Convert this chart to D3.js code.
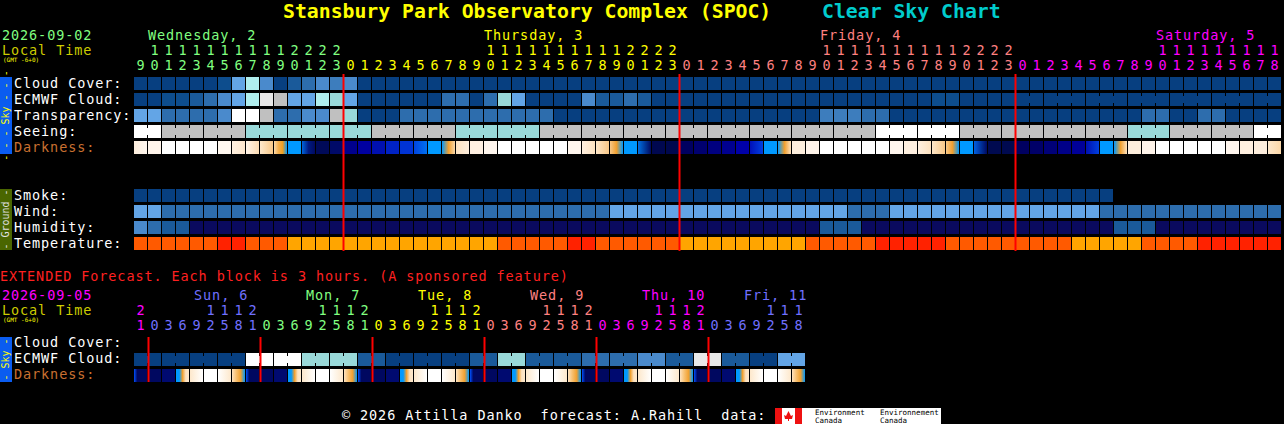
<!DOCTYPE html>
<html>
<head>
<meta charset="utf-8">
<script src="https://cdn.jsdelivr.net/npm/d3@7"></script>
<style>
  body { margin: 0; background: #000; }
  svg { display: block; }
  text { font-family: "DejaVu Sans Mono", monospace; white-space: pre; }
</style>
</head>
<body>
<svg id="chart" width="1284" height="424"></svg>
<script>
// ---- data ----
var mainDayNames = ["Wednesday, 2", "Thursday, 3", "Friday, 4", "Saturday, 5"];
var mainDayColors = ["#80ff80", "#ffff00", "#ff8080", "#ff00ff"];
var mainDayStartHour = [9, 0, 0, 0];
var mainDayBlocks = [15, 24, 24, 19];

// block colour codes, one char per hour
var cloudCover   = "0000001" + "6p5023545" + "000000000000000000000000000000000000000000000000000000000000000000";
var ecmwfCloud   = "00112356plg66pc6" + "000000" + "3303c6" + "0000" + "52232" + "00000000000000000000" + "11" + "00000000000000000000000";
var transparency = "6633335wwg3355gc" + "000" + "33333333333" + "0000000000000000000" + "44433" + "000000000000000000" + "33" + "00" + "33" + "0000";
var seeing       = "ww" + "gggggg" + "ccccccccc" + "gggggg" + "cccccc" + "gggggggggggggggggggggggg" + "wwwwww" + "gggggggggggg" + "ccc" + "gggggg" + "ww";
var darkness = [
  "#fdeedd>#fff6ee", "#fff4ea", "#ffffff", "#ffffff", "#ffffff", "#ffffff", "#fff8f0", "#fff0e0>#fde6cc",
  "#fff4e8>#fcdcb4", "#fde8cc>#f8c888", "#fbd9a8>#f5b050>#f0a020>#0099ff", "#0099ff", "#0066dd>#001a80>#000a60",
  "#000a58", "#000a68",
  "#00008c", "#0000a0", "#0010b0", "#0022c4", "#0033d4", "#0044e0>#0070f0", "#0099ff", "#0099ff>#f0a030>#fad7a8",
  "#fde2c0>#fdeedd", "#fff0e2", "#fff6ee", "#ffffff", "#ffffff", "#ffffff", "#ffffff", "#ffffff", "#fff6ee",
  "#fff0e0>#fde2c0", "#fde6c8>#f8c888", "#f8c888>#f0a030>#0099ff", "#0099ff", "#0070e0>#000a60", "#000850", "#00084e",
  "#000060", "#000070", "#000080", "#000090", "#0000a8", "#0010b8>#0040e0", "#0099ff", "#0099ff>#f0a030>#fde2c0",
  "#fdeedd", "#fff4ea", "#ffffff", "#ffffff", "#ffffff", "#ffffff", "#ffffff", "#fff6ee", "#fff0e0",
  "#fff0e0>#fde2c0", "#fde6c8>#f8c888", "#f8c888>#f0a030>#0099ff", "#0099ff", "#0060e0>#000a60", "#000a50", "#000a50",
  "#000060", "#000068", "#000078", "#000088", "#000098", "#0010b0>#0040e0", "#0099ff", "#0099ff>#f0a030>#fde2c0",
  "#fdeedd", "#fff4ea", "#ffffff", "#ffffff", "#ffffff", "#ffffff", "#ffffff", "#fff6ee", "#fff0e0", "#fdeedd",
  "#fde8cc>#fcd8a8"
];
var smoke       = "0000000000000000000000000000000000000000000000000000000000000000000000" + "------------";
var wind        = "66" + "33333333333333333333333333333333" + "66666666666666666" + "333" + "666666666666666" + "3333333333333";
var humidity    = "5322" + "nnnnnnnnnnnnnnnnnnnnnnnnnnnnnnnnnnnnnnnnnnnnn" + "222" + "nnnnnnnnnnnnnnnnnn" + "222" + "nnnnnnnnn";
var temperature = "oooooo" + "rr" + "ooo" + "aaaaaaaaaaaaaaa" + "ooooo" + "rr" + "oooooo" + "aaaaaaaaa" + "ooooo" + "rrrrr" + "ooooooooo" + "aaaaa" + "oooo" + "rrrrrr";

var extDayNames = ["Sun, 6", "Mon, 7", "Tue, 8", "Wed, 9", "Thu, 10", "Fri, 11"];
var extDayColors = ["#7070ff", "#80ff80", "#ffff00", "#ff8080", "#ff00ff", "#7070ff"];
var extDayLabelPos = [4.29, 12.29, 20.29, 28.29, 36.29, 43.57];
var extHours = [21, 0,3,6,9,12,15,18,21, 0,3,6,9,12,15,18,21, 0,3,6,9,12,15,18,21,
                0,3,6,9,12,15,18,21, 0,3,6,9,12,15,18,21, 0,3,6,9,12,15,18];
var extHourDay = [-1, 0,0,0,0,0,0,0,0, 1,1,1,1,1,1,1,1, 2,2,2,2,2,2,2,2, 3,3,3,3,3,3,3,3, 4,4,4,4,4,4,4,4, 5,5,5,5,5,5,5];
var extEcmwf = "00000000" + "wwww" + "cccc" + "22" + "000000" + "22" + "cc" + "2222" + "3333" + "55" + "22" + "ll" + "22" + "00" + "66";
var extDarkness = "E" + "NMDYWAKE" + "NMDYWAKE" + "NMDYWAKE" + "NMDYWAKE" + "NMDYWAKE" + "NMDYWAK";

var blockPalette = {
  "0": "#073f80", "1": "#0d4d8d", "2": "#1a5a9a", "3": "#2d6dad", "4": "#3d7dbd", "5": "#4a8acc",
  "6": "#63a5e6", "c": "#99d9d9", "p": "#b0eeee", "w": "#ffffff", "l": "#e8e8e8", "g": "#c0c0c0",
  "n": "#0a0a5e", "o": "#ff5a00", "r": "#ff2200", "a": "#ffa500"
};
var extDarkPalette = {
  "E": "#0050ff>#000860>#000860>#000860>#000860",
  "N": "#000860",
  "M": "#000a70",
  "D": "#0099ff>#0099ff>#f0a030>#fde2c0>#fde8cc",
  "Y": "#fde8cc>#ffffff",
  "W": "#ffffff",
  "A": "#ffffff>#fde8cc",
  "K": "#fde2c0>#f8c070>#f0a030>#0099ff"
};

// ---- drawing ----
var FS = 13.5, LS = 0.9; // font size / letter spacing to mimic the 9px-wide pixel font
var svg = d3.select("#chart");
var defs = svg.append("defs");
svg.append("rect").attr("width", 1284).attr("height", 424).attr("fill", "#000");

var x = d3.scaleLinear().domain([0, 82]).range([134, 134 + 82 * 14]);
var xe = d3.scaleLinear().domain([0, 48]).range([134, 134 + 48 * 14]);
var bw = 13, bh = 13;

var gradCount = 0, gradCache = {};
function fillFor(spec) {
  if (spec.indexOf(">") < 0) return spec;
  if (gradCache[spec]) return gradCache[spec];
  var stops = spec.split(">");
  var id = "g" + (gradCount++);
  var g = defs.append("linearGradient").attr("id", id).attr("x1", "0").attr("x2", "1").attr("y1", "0").attr("y2", "0");
  stops.forEach(function(c, i) {
    g.append("stop").attr("offset", i / (stops.length - 1)).attr("stop-color", c);
  });
  gradCache[spec] = "url(#" + id + ")";
  return gradCache[spec];
}

function text(t, px, py, color, size, opts) {
  opts = opts || {};
  return svg.append("text").attr("x", px).attr("y", py).attr("fill", color)
    .attr("font-size", size).attr("font-weight", opts.bold ? "bold" : null)
    .attr("letter-spacing", size === FS ? LS : null)
    .attr("text-anchor", opts.anchor || "start").text(t);
}

// main hours
var mainHours = [], mainHourDay = [];
mainDayBlocks.forEach(function(n, d) {
  for (var i = 0; i < n; i++) { mainHours.push(mainDayStartHour[d] + i); mainHourDay.push(d); }
});

function drawRow(scale, codes, y, colorOf, joinFn) {
  var data = codes.map(function(c, i) { return { c: c, i: i }; }).filter(function(d) { return d.c !== "-"; });
  var g = svg.append("g");
  g.selectAll("rect.b").data(data).enter().append("rect")
    .attr("x", function(d) { return scale(d.i); })
    .attr("y", y).attr("width", bw).attr("height", bh)
    .attr("fill", function(d) { return fillFor(colorOf(d.c)); });
  if (joinFn) {
    var joins = data.filter(function(d) { return d.i + 1 < codes.length && joinFn(d.i) && codes[d.i + 1] === d.c; });
    g.selectAll("rect.j").data(joins).enter().append("rect")
      .attr("x", function(d) { return scale(d.i) + bw; })
      .attr("y", y + 3).attr("width", 1).attr("height", bh - 6)
      .attr("fill", function(d) { return colorOf(d.c); });
  }
}
function pal(c) { return blockPalette[c]; }

function hourDigits(scale, hours, colorOf, yTens, yOnes) {
  var data = hours.map(function(h, i) { return { h: h, i: i }; });
  svg.append("g").selectAll("text").data(data.filter(function(d) { return d.h >= 10; }))
    .enter().append("text").attr("x", function(d) { return scale(d.i) + 6.5; }).attr("y", yTens)
    .attr("text-anchor", "middle").attr("font-size", FS)
    .attr("fill", function(d) { return colorOf(d.i); })
    .text(function(d) { return Math.floor(d.h / 10); });
  svg.append("g").selectAll("text").data(data)
    .enter().append("text").attr("x", function(d) { return scale(d.i) + 6.5; }).attr("y", yOnes)
    .attr("text-anchor", "middle").attr("font-size", FS)
    .attr("fill", function(d) { return colorOf(d.i); })
    .text(function(d) { return d.h % 10; });
}

// title
text("Stansbury Park Observatory Complex (SPOC)", 283, 18, "#ffff00", 19.8, { bold: true });
text("Clear Sky Chart", 822, 18, "#00cccc", 19.8, { bold: true });

// main header
text("2026-09-02", 2, 40, "#80ff80", FS);
text("Local Time", 2, 55, "#cccc00", FS);
text("(GMT -6+0)", 3, 62, "#ffff00", 6);
var dayStart = 0;
mainDayBlocks.forEach(function(n, d) {
  var labelIdx = dayStart + (10 - mainDayStartHour[d]);
  text(mainDayNames[d], x(labelIdx), 40, mainDayColors[d], FS);
  dayStart += n;
});
hourDigits(x, mainHours, function(i) { return mainDayColors[mainHourDay[i]]; }, 55, 70);

// side bars
function sideBar(y0, y1, fill, label, color) {
  svg.append("rect").attr("x", 0).attr("y", y0).attr("width", 12).attr("height", y1 - y0).attr("fill", fill);
  svg.append("text").attr("transform", "translate(9," + ((y0 + y1) / 2) + ") rotate(-90)")
    .attr("text-anchor", "middle").attr("font-size", 10).attr("fill", color).text(label);
}
sideBar(77, 154, "#0a5cf0", "- - - Sky - - -", "#ffff00");
sideBar(189, 250, "#4a6600", "- Ground -", "#e0e0e0");
sideBar(337, 382, "#0a5cf0", "- Sky -", "#ffff00");

// row labels
var skyLabels = ["Cloud Cover:", "ECMWF Cloud:", "Transparency:", "Seeing:", "Darkness:"];
skyLabels.forEach(function(l, i) { text(l, 14, 88 + 16 * i, i === 4 ? "#c87030" : "#ffffff", FS); });
var groundLabels = ["Smoke:", "Wind:", "Humidity:", "Temperature:"];
groundLabels.forEach(function(l, i) { text(l, 14, 200 + 16 * i, "#ffffff", FS); });

// main rows
function hourJoin(i) { return (mainHours[i + 1] % 3) !== 2; }
drawRow(x, cloudCover.split(""), 77, pal);
drawRow(x, ecmwfCloud.split(""), 93, pal, function(i) { return i >= 63 && hourJoin(i); });
drawRow(x, transparency.split(""), 109, pal);
drawRow(x, seeing.split(""), 125, pal, hourJoin);
drawRow(x, darkness, 141, function(c) { return c; });
drawRow(x, smoke.split(""), 189, pal);
drawRow(x, wind.split(""), 205, pal);
drawRow(x, humidity.split(""), 221, pal);
drawRow(x, temperature.split(""), 237, pal);

// midnight lines
var midnights = mainHours.map(function(h, i) { return i; }).filter(function(i) { return mainHours[i] === 0; });
svg.append("g").selectAll("line").data(midnights).enter().append("line")
  .attr("x1", function(i) { return x(i) - 0.5; }).attr("x2", function(i) { return x(i) - 0.5; })
  .attr("y1", 74).attr("y2", 251).attr("stroke", "#ff0000").attr("stroke-width", 2);

// extended section
text("EXTENDED Forecast. Each block is 3 hours. (A sponsored feature)", 0, 281, "#ff2020", FS);
text("2026-09-05", 2, 300, "#ff00ff", FS);
text("Local Time", 2, 315, "#cccc00", FS);
text("(GMT -6+0)", 3, 322, "#ffff00", 6);
extDayNames.forEach(function(n, d) { text(n, xe(extDayLabelPos[d]), 300, extDayColors[d], FS); });
hourDigits(xe, extHours, function(i) { return extHourDay[i] < 0 ? "#ff00ff" : extDayColors[extHourDay[i]]; }, 315, 330);

text("Cloud Cover:", 14, 347, "#ffffff", FS);
text("ECMWF Cloud:", 14, 363, "#ffffff", FS);
text("Darkness:", 14, 379, "#c87030", FS);

drawRow(xe, extEcmwf.split(""), 353, pal, function(i) { return i % 2 === 0; });
drawRow(xe, extDarkness.split(""), 369, function(c) { return extDarkPalette[c]; });

var extMidnights = extHours.map(function(h, i) { return i; }).filter(function(i) { return extHours[i] === 0; });
svg.append("g").selectAll("line").data(extMidnights).enter().append("line")
  .attr("x1", function(i) { return xe(i) + 0.5; }).attr("x2", function(i) { return xe(i) + 0.5; })
  .attr("y1", 337).attr("y2", 382).attr("stroke", "#ff0000").attr("stroke-width", 2);

// footer
text("\u00a9 2026 Attilla Danko  forecast: A.Rahill  data:", 342, 420, "#ffffff", FS);
svg.append("rect").attr("x", 775).attr("y", 408).attr("width", 27).attr("height", 16).attr("fill", "#ffffff");
svg.append("rect").attr("x", 775).attr("y", 408).attr("width", 7).attr("height", 16).attr("fill", "#ee1111");
svg.append("rect").attr("x", 795).attr("y", 408).attr("width", 7).attr("height", 16).attr("fill", "#ee1111");
svg.append("path").attr("d", "M788.5,411 L791,416 L793,415 L792,419 L789,419 L789,421 L788,421 L788,419 L785,419 L784,415 L786,416 Z").attr("fill", "#ee1111");
svg.append("rect").attr("x", 802).attr("y", 408).attr("width", 139).attr("height", 16).attr("fill", "#ffffff");
text("Environment", 815, 415, "#000", 7.5);
text("Canada", 815, 423, "#000", 7.5);
text("Environnement", 880, 415, "#000", 7.5);
text("Canada", 880, 423, "#000", 7.5);
</script>
</body>
</html>
